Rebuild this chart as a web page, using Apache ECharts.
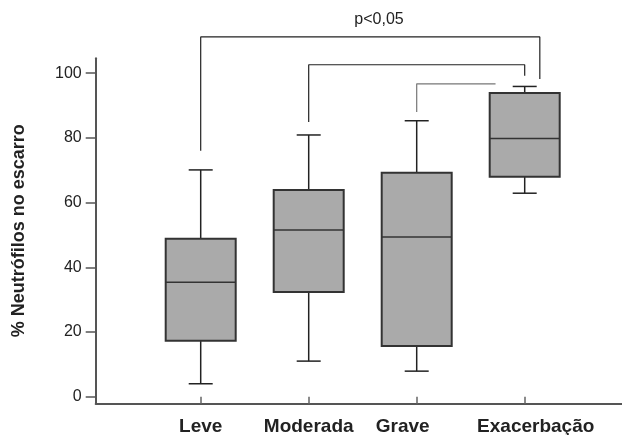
<!DOCTYPE html>
<html>
<head>
<meta charset="utf-8">
<script src="https://cdn.jsdelivr.net/npm/echarts@6/dist/echarts.min.js"></script>
<style>html,body{margin:0;padding:0;background:#fff}#c{width:622px;height:435px}</style>
</head>
<body>
<div id="c"></div>
<script>
const categories = ['Leve', 'Moderada', 'Grave', 'Exacerbação'];
const minValues = [4.0, 11.0, 7.9, 62.9];
const q1Values = [17.3, 32.4, 15.7, 68.0];
const medianValues = [35.4, 51.5, 49.4, 79.8];
const q3Values = [48.8, 63.9, 69.2, 93.9];
const maxValues = [70.1, 80.9, 85.3, 95.9];
const yTicks = [0, 20, 40, 60, 80, 100];
const pText = 'p<0,05';
// bracket paths in data units (x = category index on the padded axis, y = %)
const bracketOuter = [[1, 76.0], [1, 111.2], [4.14, 111.2], [4.14, 98.2]];
const bracketMiddle = [[2, 84.9], [2, 102.6], [4, 102.6], [4, 99.2]];
const bracketInner = [[3, 88.0], [3, 96.7], [3.73, 96.7]];

const axisCats = [''].concat(categories).concat(['']);
const boxRows = categories.map((c, i) => [i + 1, minValues[i], q1Values[i], medianValues[i], q3Values[i], maxValues[i]]);

const Y_MIN = -2.04, Y_MAX = 104.6;
const chart = echarts.init(document.getElementById('c'), null, {renderer: 'canvas'});
const FONT = 'Liberation Sans';

chart.setOption({
  animation: false,
  backgroundColor: '#fff',
  title: {
    text: pText, left: 374, top: 7, textAlign: 'center',
    textStyle: {fontFamily: FONT, fontSize: 16, fontWeight: 'normal', color: '#222'}
  },
  grid: [
    {left: 92.7, right: -10.7, top: 58.3, bottom: 31.7, containLabel: false, outerBoundsMode: 'none'},
    {left: 95.7, right: 0, top: 58.3, bottom: 31.7, containLabel: false, outerBoundsMode: 'none'}
  ],
  xAxis: [
    {
      type: 'category', gridIndex: 0, data: axisCats, boundaryGap: false,
      axisLine: {show: false},
      axisTick: {show: true, length: 7, lineStyle: {color: '#666', width: 1.5},
        interval: (i, v) => v !== ''},
      axisLabel: {
        interval: 0, margin: 14,
        formatter: v => v === '' ? '' : (v === 'Grave' ? '{g|' + v + '}' : (v === 'Exacerbação' ? '{e|' + v + '}' : '{n|' + v + '}')),
        rich: {
          n: {fontFamily: FONT, fontSize: 19, fontWeight: 'bold', color: '#222'},
          g: {fontFamily: FONT, fontSize: 19, fontWeight: 'bold', color: '#222', padding: [0, 28, 0, 0]},
          e: {fontFamily: FONT, fontSize: 19, fontWeight: 'bold', color: '#222', padding: [0, 0, 0, 22]}
        }
      },
      splitLine: {show: false}
    },
    {type: 'value', gridIndex: 0, min: 0, max: 5, show: false},
    {
      type: 'value', gridIndex: 1, min: 0, max: 1,
      axisLine: {show: true, onZero: false, lineStyle: {color: '#555', width: 2}},
      axisTick: {show: false}, axisLabel: {show: false}, splitLine: {show: false}
    }
  ],
  yAxis: [
    {type: 'value', gridIndex: 0, min: Y_MIN, max: Y_MAX, show: false},
    {
      type: 'value', gridIndex: 1, min: Y_MIN, max: Y_MAX,
      name: '% Neutrófilos no escarro', nameLocation: 'middle', nameGap: 68,
      nameTextStyle: {fontFamily: FONT, fontSize: 18, fontWeight: 'bold', color: '#222'},
      axisLine: {show: true, onZero: false, lineStyle: {color: '#555', width: 2}},
      axisTick: {show: true, inside: false, length: 10, lineStyle: {color: '#555', width: 1.5}, customValues: yTicks},
      axisLabel: {fontFamily: FONT, fontSize: 16, color: '#222', margin: 14, inside: false, customValues: yTicks},
      splitLine: {show: false}
    }
  ],
  series: [
    {
      type: 'custom', xAxisIndex: 0, yAxisIndex: 0,
      data: boxRows,
      encode: {x: 0, y: [1, 2, 3, 4, 5]},
      renderItem: function (params, api) {
        const xv = api.value(0);
        const pt = v => api.coord([xv, v]);
        const pMin = pt(api.value(1)), pQ1 = pt(api.value(2)), pMed = pt(api.value(3)),
              pQ3 = pt(api.value(4)), pMax = pt(api.value(5));
        const cx = pMed[0], hw = 35, cw = 12;
        const ls = {stroke: '#222', lineWidth: 1.5};
        return {
          type: 'group',
          children: [
            {type: 'line', shape: {x1: cx, y1: pQ3[1], x2: cx, y2: pMax[1]}, style: ls},
            {type: 'line', shape: {x1: cx, y1: pQ1[1], x2: cx, y2: pMin[1]}, style: ls},
            {type: 'line', shape: {x1: cx - cw, y1: pMax[1], x2: cx + cw, y2: pMax[1]}, style: ls},
            {type: 'line', shape: {x1: cx - cw, y1: pMin[1], x2: cx + cw, y2: pMin[1]}, style: ls},
            {type: 'rect', shape: {x: cx - hw, y: pQ3[1], width: 2 * hw, height: pQ1[1] - pQ3[1]},
              style: {fill: '#aaaaaa', stroke: '#333', lineWidth: 2}},
            {type: 'line', shape: {x1: cx - hw, y1: pMed[1], x2: cx + hw, y2: pMed[1]},
              style: {stroke: '#333', lineWidth: 1.5}}
          ]
        };
      }
    },
    {type: 'line', xAxisIndex: 1, yAxisIndex: 0, data: bracketOuter, clip: false, symbol: 'none',
      lineStyle: {color: '#222', width: 1.2}},
    {type: 'line', xAxisIndex: 1, yAxisIndex: 0, data: bracketMiddle, clip: false, symbol: 'none',
      lineStyle: {color: '#222', width: 1.2}},
    {type: 'line', xAxisIndex: 1, yAxisIndex: 0, data: bracketInner, clip: false, symbol: 'none',
      lineStyle: {color: '#777', width: 1.2}}
  ]
});
</script>
</body>
</html>
